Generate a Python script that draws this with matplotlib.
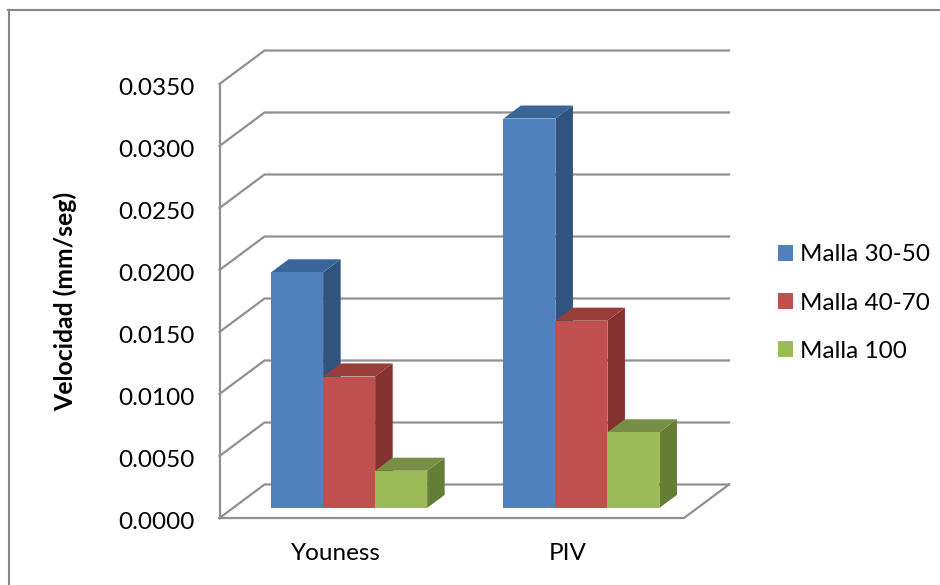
import matplotlib
matplotlib.use("Agg")
import matplotlib.pyplot as plt
from matplotlib.lines import Line2D
from matplotlib.patches import Patch
from matplotlib.transforms import ScaledTranslation

# ==========================================
# DATA
# ==========================================
categories = ["Youness", "PIV"]
series_names = ["Malla 30-50", "Malla 40-70", "Malla 100"]
malla_30_50 = [0.0190, 0.0314]
malla_40_70 = [0.0106, 0.0151]
malla_100 = [0.0030, 0.0061]
tick_values = [0.0, 0.005, 0.010, 0.015, 0.020, 0.025, 0.030, 0.035]

front_colors = ["#4F81BD", "#C0504D", "#9BBB59"]
side_colors = ["#2F5480", "#843230", "#647D37"]
top_colors = ["#3A659B", "#983D3A", "#768F45"]
GRID = "#909090"
LW = 1.6

W, H = 940, 585
# front wall of the fake 3D box, in pixels
LEFT, RIGHT, BOTTOM, TOP = 219.5, 684.0, 518.0, 84.0
DEPTH_X, DEPTH_Y = 45.0, 33.5  # pixel shift from front to back of the floor
BAR_DEPTH = (0.3, 0.69)
BAR_W = 0.224
GROUP_PAD = 0.164

plt.rcParams["font.family"] = ["Lato", "DejaVu Sans"]

fig = plt.figure(figsize=(W / 100, H / 100), dpi=100)
ax = fig.add_axes([LEFT / W, 1 - BOTTOM / H, (RIGHT - LEFT) / W, (BOTTOM - TOP) / H])
ax.set_xlim(0, len(categories))
ax.set_ylim(0, 0.035)

# depth -> data units
dx_unit = DEPTH_X / ((RIGHT - LEFT) / len(categories))
dy_unit = DEPTH_Y / ((BOTTOM - TOP) / 0.035)


def proj(x, y, d):
    return x + d * dx_unit, y + d * dy_unit


# back wall and floor
for v in tick_values:
    pts = [proj(0, v, 0), proj(0, v, 1), proj(len(categories), v, 1)]
    ax.plot(*zip(*pts), color=GRID, lw=LW, clip_on=False, zorder=1, solid_joinstyle="miter")
floor = [proj(0, 0, 0), proj(len(categories), 0, 0), proj(len(categories), 0, 1)]
ax.plot(*zip(*floor), color=GRID, lw=LW, clip_on=False, zorder=1, solid_joinstyle="miter")

# bars, later series sit on top of the side face of the one before
all_series = [malla_30_50, malla_40_70, malla_100]
for i in range(len(categories)):
    for j, vals in enumerate(all_series):
        x0 = i + GROUP_PAD + j * BAR_W
        x1 = x0 + BAR_W
        v = vals[i]
        d0, d1 = BAR_DEPTH
        side = [proj(x1, 0, d0), proj(x1, 0, d1), proj(x1, v, d1), proj(x1, v, d0)]
        top = [proj(x0, v, d0), proj(x1, v, d0), proj(x1, v, d1), proj(x0, v, d1)]
        ax.fill(*zip(*side), color=side_colors[j], lw=0, clip_on=False, zorder=2 + j)
        ax.fill(*zip(*top), color=top_colors[j], lw=0, clip_on=False, zorder=2 + j)
        fx, fy = proj(x0, 0, d0)
        ax.bar(fx, v, BAR_W, bottom=fy, align="edge", color=front_colors[j],
               clip_on=False, zorder=2 + j)

for s in ["top", "right", "bottom"]:
    ax.spines[s].set_visible(False)
ax.spines["left"].set_color(GRID)
ax.spines["left"].set_linewidth(LW)
ax.patch.set_alpha(0)

ax.set_yticks(tick_values)
ax.set_yticklabels([f"{v:.4f}" for v in tick_values], fontsize=17.5, color="black")
ax.tick_params(axis="y", length=0, pad=18)
# labels sit a little low in the original
for lab in ax.get_yticklabels():
    lab.set_transform(lab.get_transform() + ScaledTranslation(0, -1.5 / 72, fig.dpi_scale_trans))
ax.set_xticks([i + 0.5 for i in range(len(categories))])
ax.set_xticklabels(categories, fontsize=17.5, color="black")
ax.tick_params(axis="x", length=0, pad=18)

fig.text(65 / W, 1 - 301 / H, "Velocidad (mm/seg)", rotation=90, ha="center", va="center",
         fontsize=17.8, fontweight="bold")

handles = [Patch(facecolor=c, lw=0) for c in front_colors]
fig.legend(handles, series_names, loc="center left", bbox_to_anchor=(758.6 / W, 1 - 303 / H),
           frameon=False, fontsize=17.5, handlelength=0.62, handleheight=0.62,
           handletextpad=0.29, labelspacing=1.12, borderpad=0.3)

# outer chart border, only top and left edges are inside the picture
fig.add_artist(Line2D([9 / W, 9 / W], [0, 1 - 9.5 / H], transform=fig.transFigure,
                      color="#868686", lw=1.5))
fig.add_artist(Line2D([8 / W, 1], [1 - 9.5 / H, 1 - 9.5 / H], transform=fig.transFigure,
                      color="#868686", lw=1.5))

fig.savefig("out.png", dpi=100)
